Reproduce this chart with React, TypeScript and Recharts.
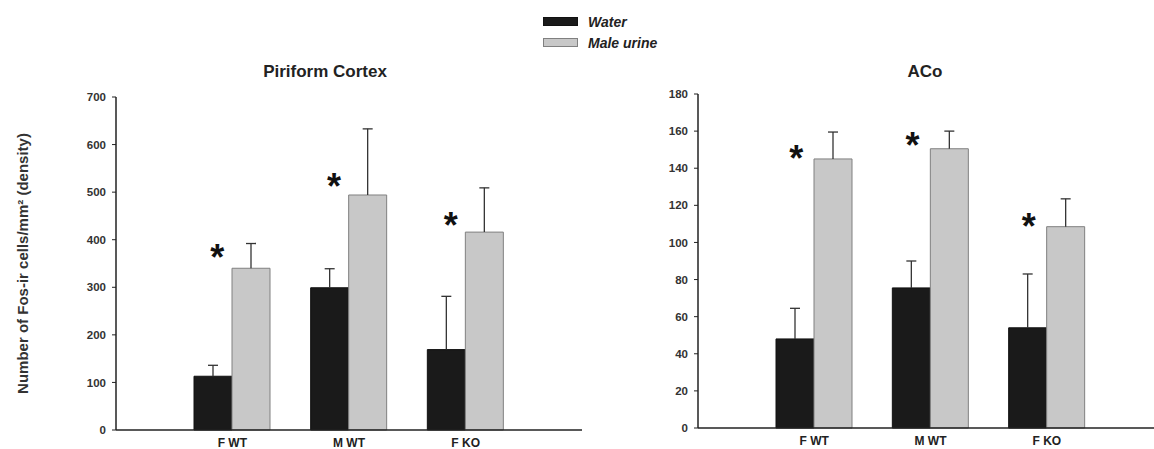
import {
  ComposedChart,
  Bar,
  ErrorBar,
  Scatter,
  XAxis,
  YAxis,
} from "recharts";

const groups = ["F WT", "M WT", "F KO"];
const seriesNames = ["Water", "Male urine"];

// Piriform Cortex
const piriformWater = [113, 299, 169];
const piriformWaterErr = [23, 40, 112];
const piriformUrine = [340, 494, 416];
const piriformUrineErr = [52, 139, 93];
const piriformStar = [380, 530, 448];
const piriformTicks = [0, 100, 200, 300, 400, 500, 600, 700];

// ACo
const acoWater = [48, 75.5, 54];
const acoWaterErr = [16.5, 14.5, 29];
const acoUrine = [145, 150.5, 108.5];
const acoUrineErr = [14.5, 9.5, 15];
const acoStar = [150, 157, 113];
const acoTicks = [0, 20, 40, 60, 80, 100, 120, 140, 160, 180];

const FONT = "'Liberation Sans', Arial, Helvetica, sans-serif";
const BLACK = "#1a1a1a";
const GRAY = "#c8c8c8";
const AXIS = "#222";

function buildRows(
  water: number[],
  waterErr: number[],
  urine: number[],
  urineErr: number[],
  star: number[]
) {
  return groups.map((group, i) => ({
    group,
    water: water[i],
    waterErr: [0, waterErr[i]],
    urine: urine[i],
    urineErr: [0, urineErr[i]],
    star: star[i],
  }));
}

const piriformData = buildRows(
  piriformWater,
  piriformWaterErr,
  piriformUrine,
  piriformUrineErr,
  piriformStar
);
const acoData = buildRows(acoWater, acoWaterErr, acoUrine, acoUrineErr, acoStar);

const yTickStyle = { fontSize: 11.5, fontWeight: 700, fill: "#333", fontFamily: FONT };
const xTickStyle = { fontSize: 12, fontWeight: 700, fill: "#222", fontFamily: FONT };

interface PanelProps {
  data: ReturnType<typeof buildRows>;
  ticks: number[];
  width: number;
  top: number;
  axisHeight: number;
  padLeft: number;
  padRight: number;
  starShift: number;
  yLabel?: string;
}

function Panel({
  data,
  ticks,
  width,
  top,
  axisHeight,
  padLeft,
  padRight,
  starShift,
  yLabel,
}: PanelProps) {
  const max = ticks[ticks.length - 1];
  return (
    <ComposedChart
      width={width}
      height={449}
      data={data}
      margin={{ top, right: 0, bottom: 0, left: 56 }}
      barGap={0}
      barSize={38}
    >
      <XAxis
        dataKey="group"
        height={axisHeight}
        padding={{ left: padLeft, right: padRight }}
        tick={xTickStyle}
        tickLine={false}
        tickSize={0}
        tickMargin={8}
        axisLine={{ stroke: AXIS, strokeWidth: 1.5 }}
      />
      <YAxis
        width={60}
        domain={[0, max]}
        ticks={ticks}
        interval={0}
        tick={yTickStyle}
        tickSize={4}
        tickMargin={6}
        tickLine={{ stroke: AXIS }}
        axisLine={{ stroke: AXIS, strokeWidth: 1.5 }}
        label={
          yLabel
            ? {
                content: ({ viewBox }: any) => {
                  const cx = viewBox.x - 34;
                  const cy = viewBox.y + viewBox.height / 2;
                  return (
                    <text
                      x={cx}
                      y={cy}
                      transform={`rotate(-90 ${cx} ${cy})`}
                      textAnchor="middle"
                      dominantBaseline="central"
                      fontSize={15}
                      fontWeight={700}
                      fontFamily={FONT}
                      fill="#333"
                    >
                      {yLabel}
                    </text>
                  );
                },
              }
            : undefined
        }
      />
      <Bar
        dataKey="water"
        name={seriesNames[0]}
        fill={BLACK}
        stroke="#111"
        strokeWidth={1}
        isAnimationActive={false}
      >
        <ErrorBar dataKey="waterErr" width={5} stroke="#333" strokeWidth={1.3} />
      </Bar>
      <Bar
        dataKey="urine"
        name={seriesNames[1]}
        fill={GRAY}
        stroke="#808080"
        strokeWidth={1}
        isAnimationActive={false}
      >
        <ErrorBar dataKey="urineErr" width={5} stroke="#333" strokeWidth={1.3} />
      </Bar>
      <Scatter
        dataKey="star"
        isAnimationActive={false}
        shape={(props: any) => (
          <text
            x={props.cx + starShift}
            y={props.cy + 21}
            textAnchor="middle"
            fontSize={36}
            fontWeight={700}
            fontFamily={FONT}
            fill="#111"
          >
            *
          </text>
        )}
      />
    </ComposedChart>
  );
}

const titleStyle = {
  position: "absolute" as const,
  width: 200,
  top: 62,
  textAlign: "center" as const,
  fontSize: 17,
  fontWeight: 700,
  color: "#222",
};

export default function App() {
  return (
    <div
      style={{
        position: "absolute",
        left: 0,
        top: 0,
        width: 1154,
        height: 449,
        background: "#fff",
        fontFamily: FONT,
        overflow: "hidden",
      }}
    >
      {/* hide the zero-length lower cap of the one-sided error bars */}
      <style>{`.recharts-errorBar line:nth-of-type(3){display:none}`}</style>

      <div style={{ position: "absolute", left: 543, top: 11 }}>
        {seriesNames.map((name, i) => (
          <div
            key={name}
            style={{ display: "flex", alignItems: "center", height: 21 }}
          >
            <span
              style={{
                display: "inline-block",
                width: 33,
                height: 7,
                background: i === 0 ? BLACK : GRAY,
                border: i === 0 ? "1px solid #111" : "1px solid #808080",
                marginRight: 10,
              }}
            />
            <span
              style={{
                fontSize: 14,
                fontWeight: 700,
                fontStyle: "italic",
                color: "#222",
              }}
            >
              {name}
            </span>
          </div>
        ))}
      </div>

      <div style={{ ...titleStyle, left: 225 }}>Piriform Cortex</div>
      <div style={{ ...titleStyle, left: 825 }}>ACo</div>

      <div style={{ position: "absolute", left: 0, top: 0 }}>
        <Panel
          data={piriformData}
          ticks={piriformTicks}
          width={582}
          top={97}
          axisHeight={19}
          padLeft={58}
          padRight={58}
          starShift={-15}
          yLabel="Number of Fos-ir cells/mm² (density)"
        />
      </div>
      <div style={{ position: "absolute", left: 582, top: 0 }}>
        <Panel
          data={acoData}
          ticks={acoTicks}
          width={572}
          top={94}
          axisHeight={21}
          padLeft={58}
          padRight={49}
          starShift={-18}
        />
      </div>
    </div>
  );
}
